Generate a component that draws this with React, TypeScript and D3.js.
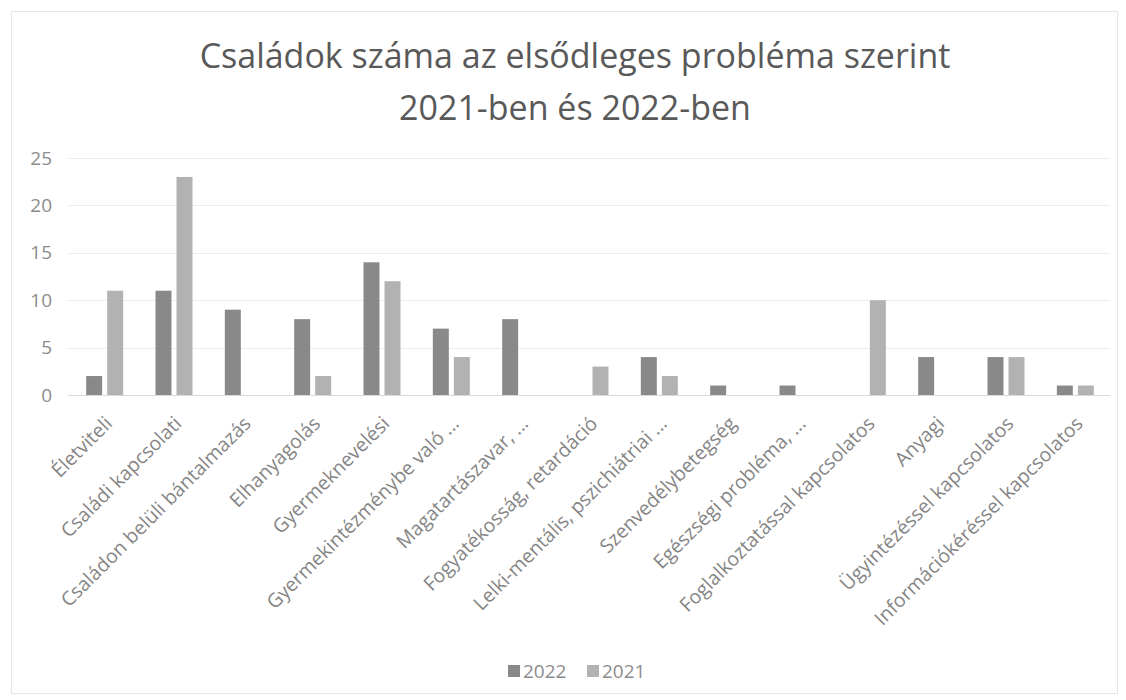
// @ts-nocheck
import { useEffect, useRef } from 'react';
import * as d3 from 'd3';

const categories = [
  'Életviteli',
  'Családi kapcsolati',
  'Családon belüli bántalmazás',
  'Elhanyagolás',
  'Gyermeknevelési',
  'Gyermekintézménybe való ...',
  'Magatartászavar, ...',
  'Fogyatékosság, retardáció',
  'Lelki-mentális, pszichiátriai ...',
  'Szenvedélybetegség',
  'Egészségi probléma, ...',
  'Foglalkoztatással kapcsolatos',
  'Anyagi',
  'Ügyintézéssel kapcsolatos',
  'Információkéréssel kapcsolatos',
];

const seriesNames = ['2022', '2021'];
const values2022 = [2, 11, 9, 8, 14, 7, 8, 0, 4, 1, 1, 0, 4, 4, 1];
const values2021 = [11, 23, 0, 2, 12, 4, 0, 3, 2, 0, 0, 10, 0, 4, 1];
const yTicks = [0, 5, 10, 15, 20, 25];
const titleLines = ['Családok száma az elsődleges probléma szerint', '2021-ben és 2022-ben'];

const colors = { '2022': '#898989', '2021': '#b2b2b2' };

const BarChart = ({ width = 1126, height = 700 }) => {
  const svgRef = useRef(null);

  useEffect(() => {
    if (!svgRef.current) return;
    const svg = d3.select(svgRef.current);
    svg.selectAll('*').remove();

    const font = '"Open Sans", "DejaVu Sans", sans-serif';
    const left = 70;
    const right = 1110;
    const top = 158;
    const bottom = 395;

    // chart border
    svg
      .append('rect')
      .attr('x', 11.5)
      .attr('y', 11.5)
      .attr('width', 1106)
      .attr('height', 682)
      .attr('fill', '#fff')
      .attr('stroke', '#e6e6e6');

    // title
    titleLines.forEach((line, i) => {
      svg
        .append('text')
        .attr('x', 575)
        .attr('y', i === 0 ? 68 : 120)
        .attr('text-anchor', 'middle')
        .attr('font-family', font)
        .attr('font-size', '34px')
        .attr('fill', '#595959')
        .text(line);
    });

    const x0 = d3.scaleBand().domain(categories).range([left, right]).paddingInner(0).paddingOuter(0);
    const groupWidth = 37;
    const x1 = d3
      .scaleBand()
      .domain(seriesNames)
      .range([(x0.bandwidth() - groupWidth) / 2, (x0.bandwidth() + groupWidth) / 2])
      .paddingInner(0.24);
    const y = d3.scaleLinear().domain([0, 25]).range([bottom, top]);

    // grid
    const grid = svg.append('g');
    yTicks.forEach((t) => {
      grid
        .append('line')
        .attr('x1', left - 2)
        .attr('x2', right)
        .attr('y1', Math.round(y(t)) + 0.5)
        .attr('y2', Math.round(y(t)) + 0.5)
        .attr('stroke', t === 0 ? '#d9d9d9' : '#ececec')
        .attr('stroke-width', 1);

      grid
        .append('text')
        .attr('x', 52)
        .attr('y', y(t))
        .attr('dy', '0.35em')
        .attr('text-anchor', 'end')
        .attr('font-family', font)
        .attr('font-size', '19px')
        .attr('fill', '#8c8c8c')
        .text(t);
    });

    // bars
    const rows = categories.map((c, i) => ({ cat: c, '2022': values2022[i], '2021': values2021[i] }));
    const bars = svg.append('g');
    rows.forEach((row) => {
      seriesNames.forEach((s) => {
        const v = row[s];
        if (!v) return;
        bars
          .append('rect')
          .attr('x', x0(row.cat) + x1(s))
          .attr('y', y(v))
          .attr('width', x1.bandwidth())
          .attr('height', y(0) - y(v))
          .attr('fill', colors[s]);
      });
    });

    // category labels
    const labels = svg.append('g');
    categories.forEach((c) => {
      const cx = x0(c) + x0.bandwidth() / 2;
      labels
        .append('text')
        .attr('transform', `translate(${cx + 4}, ${bottom + 25}) rotate(-45)`)
        .attr('dy', '0.35em')
        .attr('text-anchor', 'end')
        .attr('font-family', font)
        .attr('font-size', '19.5px')
        .attr('fill', '#858585')
        .text(c);
    });

    // legend
    const legend = svg.append('g');
    const items = [
      { name: '2022', x: 508 },
      { name: '2021', x: 587 },
    ];
    items.forEach((it) => {
      legend
        .append('rect')
        .attr('x', it.x)
        .attr('y', 665)
        .attr('width', 12)
        .attr('height', 12)
        .attr('fill', colors[it.name]);
      legend
        .append('text')
        .attr('x', it.x + 15)
        .attr('y', 671)
        .attr('dy', '0.35em')
        .attr('font-family', font)
        .attr('font-size', '19px')
        .attr('fill', '#8c8c8c')
        .text(it.name);
    });
  }, [width, height]);

  return <svg ref={svgRef} width={width} height={height} style={{ display: 'block' }} />;
};

export default function App() {
  useEffect(() => {
    document.body.style.margin = '0';
  }, []);
  return <BarChart />;
}
